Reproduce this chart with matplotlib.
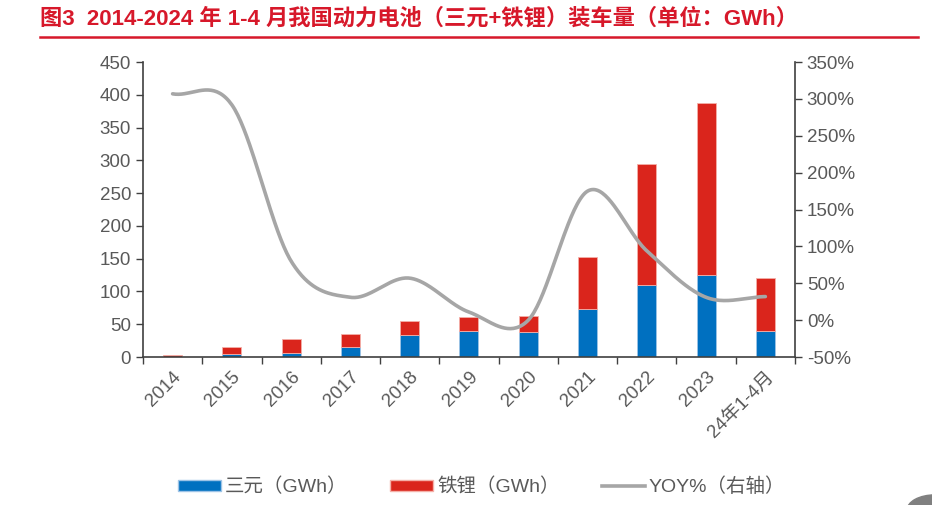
import numpy as np
import matplotlib
matplotlib.use("Agg")
import matplotlib.pyplot as plt
from matplotlib.patches import Patch, Circle
from matplotlib.lines import Line2D

plt.rcParams['font.family'] = ['Liberation Sans', 'Noto Sans CJK SC', 'DejaVu Sans']

categories = ['2014', '2015', '2016', '2017', '2018', '2019', '2020',
              '2021', '2022', '2023', '24年1-4月']
ternary = [0.5, 4, 6, 16, 33, 40, 38, 73, 110, 125, 40]
lfp = [2.5, 11, 21, 19, 22, 21, 25, 80, 184, 262, 80]
yoy = [307, 292, 80, 31, 57, 11, 0, 175, 94, 31, 32]

BLUE = '#0070C0'
RED = '#DA251C'
GREY = '#A6A6A6'
TXT = '#595959'


def catmull_rom(y, n=40):
    # smoothed line like the spreadsheet's "smooth line" option
    y = np.asarray(y, dtype=float)
    pts = np.concatenate([[2 * y[0] - y[1]], y, [2 * y[-1] - y[-2]]])
    xs, ys = [], []
    for i in range(len(y) - 1):
        p0, p1, p2, p3 = pts[i:i + 4]
        m1 = (p2 - p0) / 2
        m2 = (p3 - p1) / 2
        t = np.linspace(0, 1, n, endpoint=False)
        h00 = 2 * t**3 - 3 * t**2 + 1
        h10 = t**3 - 2 * t**2 + t
        h01 = -2 * t**3 + 3 * t**2
        h11 = t**3 - t**2
        xs.append(i + t)
        ys.append(h00 * p1 + h10 * m1 + h01 * p2 + h11 * m2)
    xs.append([len(y) - 1])
    ys.append([y[-1]])
    return np.concatenate(xs), np.concatenate(ys)


fig = plt.figure(figsize=(9.32, 5.05), dpi=100)
ax = fig.add_axes([0.1534, 0.293, 0.6996, 0.584])
x = np.arange(len(categories))

ax.bar(x, ternary, width=0.32, color=BLUE, edgecolor='#9DC3E6', linewidth=0.6, zorder=2)
ax.bar(x, lfp, width=0.32, bottom=ternary, color=RED, edgecolor='#F4B0A8', linewidth=0.6, zorder=2)

ax.set_xlim(-0.5, len(categories) - 0.5)
ax.set_ylim(0, 450)
ax.set_yticks(range(0, 451, 50))
ax.set_xticks(np.arange(-0.5, len(categories), 1.0))
ax.set_xticklabels([])
ax.set_xticks(x, minor=True)
ax.set_xticklabels(categories, minor=True, rotation=45, ha='right', va='top',
                   rotation_mode='anchor', color=TXT, fontsize=13.5)
ax.tick_params(axis='x', which='minor', length=0, pad=8)
ax.tick_params(axis='x', which='major', length=5, width=1, color='#404040', direction='out')
ax.tick_params(axis='y', length=5, width=1, color='#404040', labelsize=13.5, labelcolor=TXT)
ax.spines['top'].set_visible(False)
ax.spines['right'].set_visible(False)
for s in ['left', 'bottom']:
    ax.spines[s].set_color('#404040')
    ax.spines[s].set_linewidth(1.2)

ax2 = ax.twinx()
sx, sy = catmull_rom(yoy)
ax2.plot(sx, sy, color=GREY, linewidth=2.6, solid_capstyle='round', zorder=3)
ax2.set_ylim(-50, 350)
ax2.set_yticks(range(-50, 351, 50))
ax2.set_yticklabels([f'{v}%' for v in range(-50, 351, 50)])
ax2.tick_params(axis='y', length=5, width=1, color='#404040', labelsize=13.5, labelcolor=TXT)
ax2.spines['top'].set_visible(False)
ax2.spines['left'].set_visible(False)
ax2.spines['bottom'].set_visible(False)
ax2.spines['right'].set_color('#404040')
ax2.spines['right'].set_linewidth(1.2)

# title and red rule
fig.text(40 / 932, 1 - 19 / 505, '图3  2014-2024 年 1-4 月我国动力电池（三元+铁锂）装车量（单位：GWh）',
         color='#D7182A', fontsize=16, fontweight='bold', va='center', ha='left')
fig.add_artist(Line2D([40 / 932, 918 / 932], [1 - 37 / 505, 1 - 37 / 505],
                      color='#D7182A', linewidth=1.8))

handles = [Patch(facecolor=BLUE, edgecolor='#9DC3E6'),
           Patch(facecolor=RED, edgecolor='#F4B0A8'),
           Line2D([0], [0], color=GREY, linewidth=2.6)]
labels = ['三元（GWh）', '铁锂（GWh）', 'YOY%（右轴）']
fig.legend(handles, labels, loc='center', bbox_to_anchor=(0.517, 1 - 487 / 505), ncol=3,
           frameon=False, fontsize=14, labelcolor=TXT, handlelength=2.2, handleheight=0.55,
           columnspacing=2.2, handletextpad=0.2)

# screenshot corner button
fig.add_artist(Circle((935 / 932, 1 - 510 / 505), 0.03, transform=fig.transFigure,
                      color='#808080', clip_on=False))

fig.savefig('out.png', dpi=100)
